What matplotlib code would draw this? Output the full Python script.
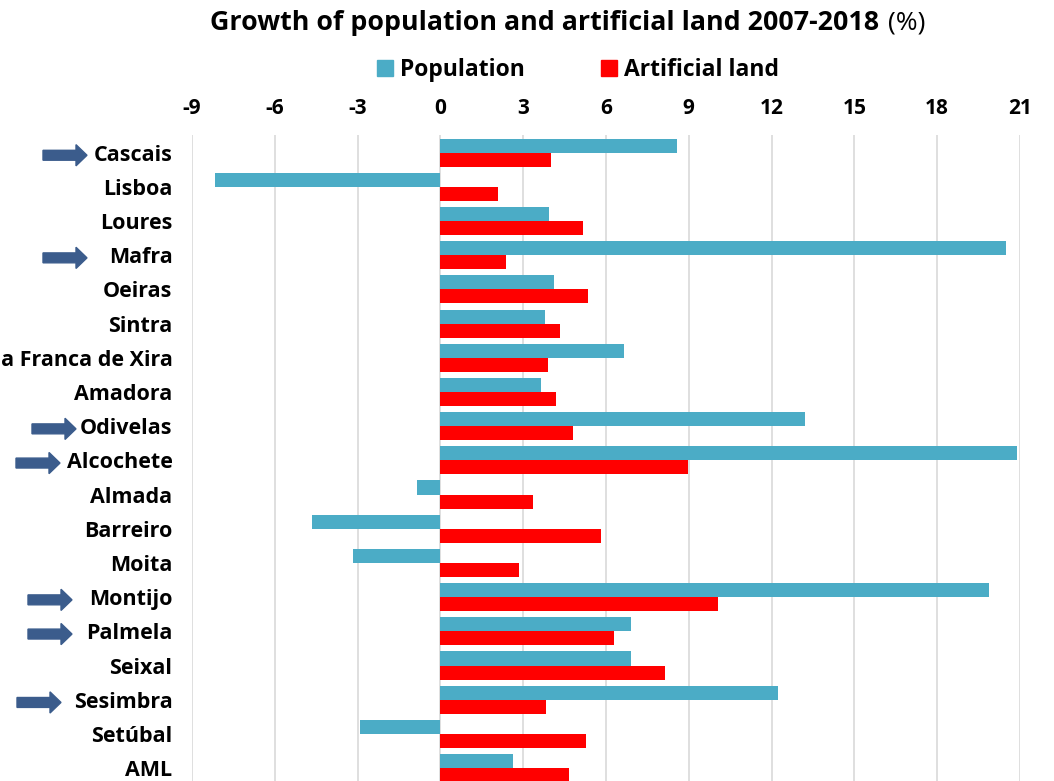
import matplotlib
matplotlib.use("Agg")
import matplotlib.pyplot as plt
import matplotlib.transforms as mtransforms
from matplotlib.patches import FancyArrow, Patch
import numpy as np

plt.rcParams['font.family'] = ['Open Sans', 'DejaVu Sans']

municipalities = ['Cascais', 'Lisboa', 'Loures', 'Mafra', 'Oeiras', 'Sintra',
                  'Vila Franca de Xira', 'Amadora', 'Odivelas', 'Alcochete',
                  'Almada', 'Barreiro', 'Moita', 'Montijo', 'Palmela', 'Seixal',
                  'Sesimbra', 'Setúbal', 'AML']
population = [8.58, -8.15, 3.94, 20.51, 4.12, 3.79, 6.66, 3.66, 13.2, 20.88,
              -0.86, -4.64, -3.18, 19.87, 6.89, 6.89, 12.25, -2.93, 2.62]
artificial = [4.0, 2.08, 5.17, 2.36, 5.36, 4.35, 3.89, 4.18, 4.81, 8.97,
              3.37, 5.81, 2.83, 10.06, 6.28, 8.12, 3.83, 5.29, 4.65]
xticks = [-9, -6, -3, 0, 3, 6, 9, 12, 15, 18, 21]

# municipalities marked with an arrow, and where the arrow starts (px from left)
highlighted = {'Cascais': 43, 'Mafra': 43, 'Odivelas': 32, 'Alcochete': 16,
               'Montijo': 28, 'Palmela': 28, 'Sesimbra': 17}

pop_color = '#4BACC6'
art_color = '#FF0000'
W, H = 1054, 781

fig = plt.figure(figsize=(W / 100, H / 100), dpi=100)
ax = fig.add_axes([192 / W, -0.0054, (1020 - 192) / W, 0.832])

y = np.arange(len(municipalities))
h = 0.41
ax.barh(y - h / 2, population, height=h, color=pop_color, zorder=3)
ax.barh(y + h / 2, artificial, height=h, color=art_color, zorder=3)

ax.set_xlim(-9, 21)
ax.set_ylim(len(municipalities) - 0.5, -0.5)
ax.set_xticks(xticks)
ax.set_xticklabels([str(t) for t in xticks], fontsize=15, fontweight='bold')
ax.xaxis.tick_top()
ax.tick_params(axis='x', length=0, pad=12)
ax.set_yticks(y)
ax.set_yticklabels(municipalities, fontsize=15.5, fontweight='bold')
ax.tick_params(axis='y', length=0, pad=14)
ax.grid(axis='x', color='#D9D9D9', linewidth=1.2, zorder=0)
for s in ax.spines.values():
    s.set_visible(False)

# arrows next to some municipalities
trans = mtransforms.blended_transform_factory(fig.transFigure, ax.transData)
for name, x0 in highlighted.items():
    i = municipalities.index(name)
    arr = FancyArrow(x0 / W, i + 0.08, 44 / W, 0, width=0.29, head_width=0.62,
                     head_length=11 / W, length_includes_head=True,
                     color='#3B5C8C', transform=trans, clip_on=False)
    ax.add_patch(arr)

# title: bold part + normal (%)
fig.text(879 / W, 1 - 23 / H, 'Growth of population and artificial land 2007-2018',
         ha='right', va='center', fontsize=19.3, fontweight='bold')
fig.text(888 / W, 1 - 23 / H, '(%)', ha='left', va='center', fontsize=19)

handles = [Patch(color=pop_color, label='Population'),
           Patch(color=art_color, label='Artificial land')]
fig.legend(handles=handles, loc='center', bbox_to_anchor=(578 / W, 1 - 70 / H),
           ncol=2, frameon=False, prop={'size': 16.5, 'weight': 'bold'},
           handlelength=0.7, handleheight=0.7, handletextpad=0.3,
           columnspacing=3.3)

fig.savefig('out.png', dpi=100)
